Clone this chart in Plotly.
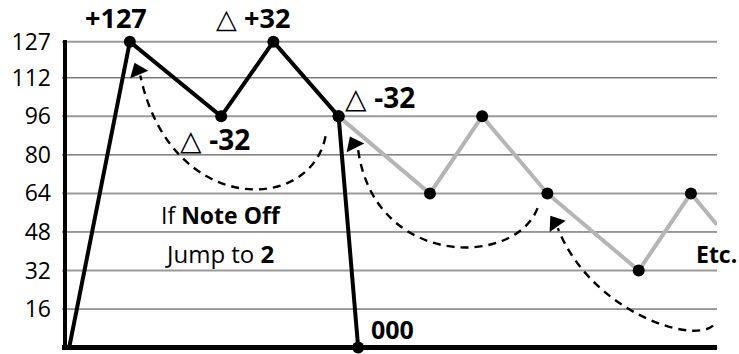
import plotly.graph_objects as go

# envelope segments (time units 0-100, level 0-127)
main_x = [0.7, 10, 24, 32, 42, 45]
main_y = [0, 127, 96, 127, 96, 0]
main_dot = [0, 12, 12, 12, 12, 12]

loop_x = [42, 56, 64, 74, 88, 96, 100]
loop_y = [96, 64, 96, 64, 32, 64, 51]
loop_dot = [12, 12, 12, 12, 12, 12, 0]

tick_vals = [16, 32, 48, 64, 80, 96, 112, 127]
grid_light = [32, 64, 96, 127]
grid_dark = [16, 48, 80, 112]

# dashed "jump" curves: cubic bezier control points (x0,y0, x1,y1, x2,y2, x3,y3)
jump_curves = [
    [40.0, 87.7, 37.6, 55.0, 16.1, 55.0, 11.6, 113.0],
    [72.5, 57.9, 69.0, 33.1, 47.5, 33.1, 45.0, 82.0],
    [99.4, 9.1, 95.9, 1.2, 80.5, 15.7, 75.6, 49.6],
]
# arrowheads at the end of each curve (centre x, centre y, rotation)
head_x = [11.2, 44.3, 75.2]
head_y = [115.0, 84.5, 51.8]
head_angle = [-22, -26, -35]

# (text, x, y, xref, yref, xanchor, size)
labels = [
    ("<b>+127</b>", 7.9, 1.074, "x", "paper", "center", 27),
    ("△ <b>+32</b>", 28.9, 1.074, "x", "paper", "center", 27),
    ("△ <b>-32</b>", 48.3, 104.0, "x", "y", "center", 28),
    ("△ <b>-32</b>", 23.0, 86.5, "x", "y", "center", 28),
    ("If <b>Note Off</b>", 24.0, 55.0, "x", "y", "center", 23),
    ("Jump to <b>2</b>", 23.8, 39.0, "x", "y", "center", 24),
    ("<b>000</b>", 46.6, 7.6, "x", "y", "left", 25),
    ("<b>Etc.</b>", 1.033, 38.9, "paper", "y", "right", 23),
]

fig = go.Figure()

fig.add_trace(go.Scatter(
    x=loop_x, y=loop_y, mode="lines+markers",
    line=dict(color="#b5b5b5", width=4),
    marker=dict(color="black", size=loop_dot, opacity=1, line=dict(width=0)),
    cliponaxis=False, showlegend=False, hoverinfo="skip"))

fig.add_trace(go.Scatter(
    x=main_x, y=main_y, mode="lines+markers",
    line=dict(color="black", width=4),
    marker=dict(color="black", size=main_dot, opacity=1, line=dict(width=0)),
    cliponaxis=False, showlegend=False, hoverinfo="skip"))

fig.add_trace(go.Scatter(
    x=head_x, y=head_y, mode="markers",
    marker=dict(symbol="triangle-up", size=17, angle=head_angle, color="black",
                line=dict(width=0)),
    cliponaxis=False, showlegend=False, hoverinfo="skip"))

for v in grid_light:
    fig.add_hline(y=v, line=dict(color="#9a9a9a", width=2), layer="below")
for v in grid_dark:
    fig.add_hline(y=v, line=dict(color="#3a3a3a", width=1), layer="below")

for c in jump_curves:
    path = "M {},{} C {},{} {},{} {},{}".format(*c)
    fig.add_shape(type="path", path=path, xref="x", yref="y",
                  line=dict(color="black", width=2.4, dash="8px,6px"))

for text, lx, ly, xr, yr, anchor, size in labels:
    fig.add_annotation(x=lx, y=ly, xref=xr, yref=yr, text=text,
                       showarrow=False, xanchor=anchor, yanchor="middle",
                       font=dict(size=size, color="black"))

fig.update_xaxes(range=[-0.4, 100], showgrid=False, showticklabels=False,
                 zeroline=True, zerolinecolor="black", zerolinewidth=4)
fig.update_yaxes(range=[-1, 127.7], tickvals=tick_vals, showgrid=False,
                 ticks="", ticklabelstandoff=10,
                 tickfont=dict(size=23, color="black"),
                 zeroline=True, zerolinecolor="black", zerolinewidth=5)

fig.update_layout(
    width=739, height=354,
    margin=dict(l=62, r=22, t=40, b=4),
    plot_bgcolor="white", paper_bgcolor="white",
    font=dict(family="Open Sans, sans-serif", color="black"),
    showlegend=False,
)

# drop the default 8px page margin so the figure fills the window
fig.write_html("out.html", config={"displayModeBar": False},
               post_script="document.body.style.margin='0';"
                           "document.body.style.overflow='hidden';")
